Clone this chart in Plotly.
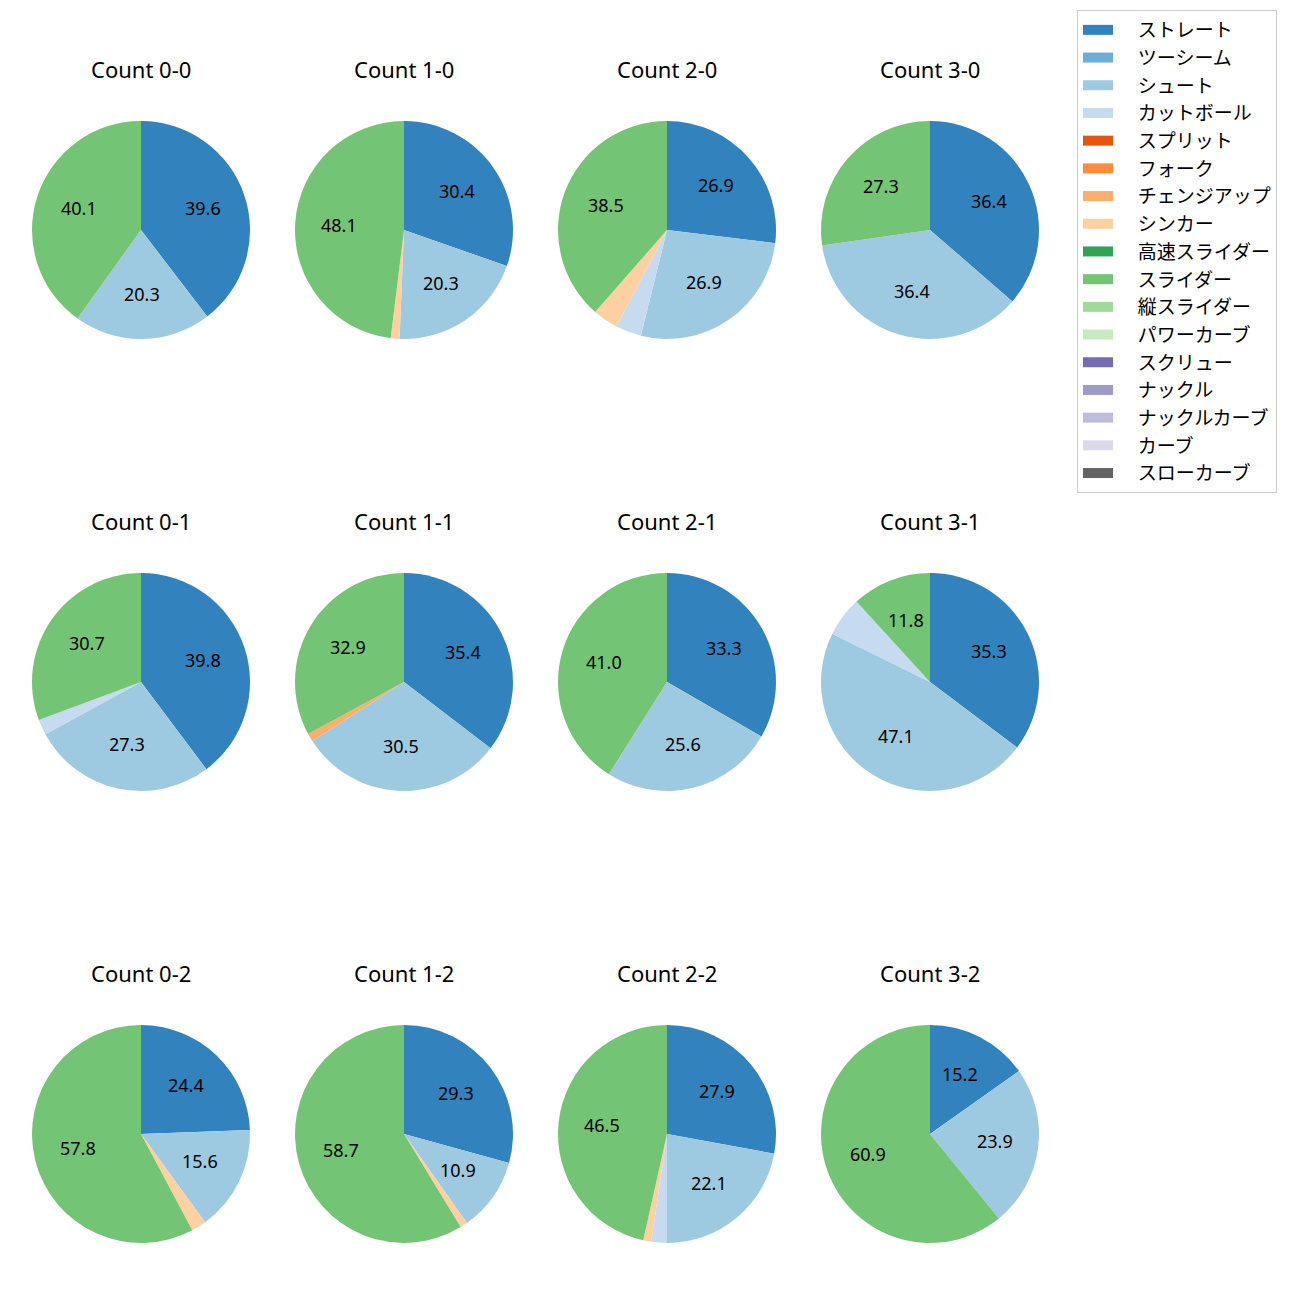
import math
import plotly.graph_objects as go

pitch_types = ["ストレート", "ツーシーム", "シュート", "カットボール", "スプリット", "フォーク",
               "チェンジアップ", "シンカー", "高速スライダー", "スライダー", "縦スライダー",
               "パワーカーブ", "スクリュー", "ナックル", "ナックルカーブ", "カーブ", "スローカーブ"]
colors = ["#3182bd", "#6baed6", "#9ecae1", "#c6dbef", "#e6550d", "#fd8d3c", "#fdae6b", "#fdd0a2",
          "#31a354", "#74c476", "#a1d99b", "#c7e9c0", "#756bb1", "#9e9ac8", "#bcbddc", "#dadaeb",
          "#636363"]

counts = ["0-0", "1-0", "2-0", "3-0",
          "0-1", "1-1", "2-1", "3-1",
          "0-2", "1-2", "2-2", "3-2"]

# share per situation (%) for the pitch types that appear
straight = [39.6, 30.4, 26.9, 36.4, 39.8, 35.4, 33.3, 35.3, 24.4, 29.3, 27.9, 15.2]
shoot    = [20.3, 20.3, 26.9, 36.4, 27.3, 30.5, 25.6, 47.1, 15.6, 10.9, 22.1, 23.9]
cutter   = [0, 0, 3.8, 0, 2.3, 0, 0, 5.9, 0, 0, 2.3, 0]
changeup = [0, 0, 0, 0, 0, 1.2, 0, 0, 0, 0, 0, 0]
sinker   = [0, 1.3, 3.8, 0, 0, 0, 0, 0, 2.2, 1.1, 1.2, 0]
slider   = [40.1, 48.1, 38.5, 27.3, 30.7, 32.9, 41.0, 11.8, 57.8, 58.7, 46.5, 60.9]

series = {"ストレート": straight, "シュート": shoot, "カットボール": cutter,
          "チェンジアップ": changeup, "シンカー": sinker, "スライダー": slider}

FONT = "Noto Sans, Noto Sans CJK JP, DejaVu Sans, sans-serif"
W = H = 1300
col_cx = [141, 404, 667, 930]
row_cy = [230, 682, 1134]
R = 109
title_off = 161

fig = go.Figure()
annotations = []

for i, cnt in enumerate(counts):
    r, c = divmod(i, 4)
    cx, cy = col_cx[c], row_cy[r]
    labels, vals, cols = [], [], []
    for lab, col in zip(pitch_types, colors):
        if lab in series and series[lab][i] > 0:
            labels.append(lab)
            vals.append(series[lab][i])
            cols.append(col)
    fig.add_trace(go.Pie(
        labels=labels, values=vals, marker=dict(colors=cols, line=dict(width=0)),
        sort=False, direction="clockwise", rotation=0, textinfo="none",
        hoverinfo="label+percent", showlegend=False,
        domain=dict(x=[(cx - R) / W, (cx + R) / W], y=[1 - (cy + R) / H, 1 - (cy - R) / H]),
    ))
    total = sum(vals)
    cum = 0
    for v in vals:
        pct = 100 * v / total
        mid = (cum + v / 2) / total
        cum += v
        if pct < 10:
            continue
        ang = math.radians(90 - 360 * mid)
        px = cx + 0.6 * R * math.cos(ang)
        py = cy - 0.6 * R * math.sin(ang)
        annotations.append(dict(x=px / W, y=1 - (py - 1.5) / H, xref="paper", yref="paper",
                                text=f"{pct:.1f}", showarrow=False,
                                font=dict(size=18, color="black", family=FONT),
                                xanchor="center", yanchor="middle"))
    annotations.append(dict(x=cx / W, y=1 - (cy - title_off) / H, xref="paper", yref="paper",
                            text=f"Count {cnt}", showarrow=False,
                            font=dict(size=22, color="black", family=FONT),
                            xanchor="center", yanchor="middle"))

# legend entries (one per pitch type)
PAD = "\u00a0" * 4
for lab, col in zip(pitch_types, colors):
    fig.add_trace(go.Scatter(x=[None], y=[None], mode="lines", name=PAD + lab,
                             line=dict(color=col, width=14), legendgroup=lab,
                             showlegend=True, hoverinfo="skip"))

fig.update_layout(
    width=W, height=H, margin=dict(l=0, r=0, t=0, b=0),
    paper_bgcolor="white", plot_bgcolor="white",
    annotations=annotations,
    font=dict(family=FONT),
    xaxis=dict(visible=False), yaxis=dict(visible=False),
    legend=dict(x=1077 / W, y=1 - 10 / H, xanchor="left", yanchor="top",
                bordercolor="#cccccc", borderwidth=1, bgcolor="white",
                font=dict(size=19, family=FONT, color="black"),
                tracegroupgap=0, traceorder="normal"),
)

fig.write_html("out.html", config={"displayModeBar": False},
               post_script="document.body.style.margin='0';")
